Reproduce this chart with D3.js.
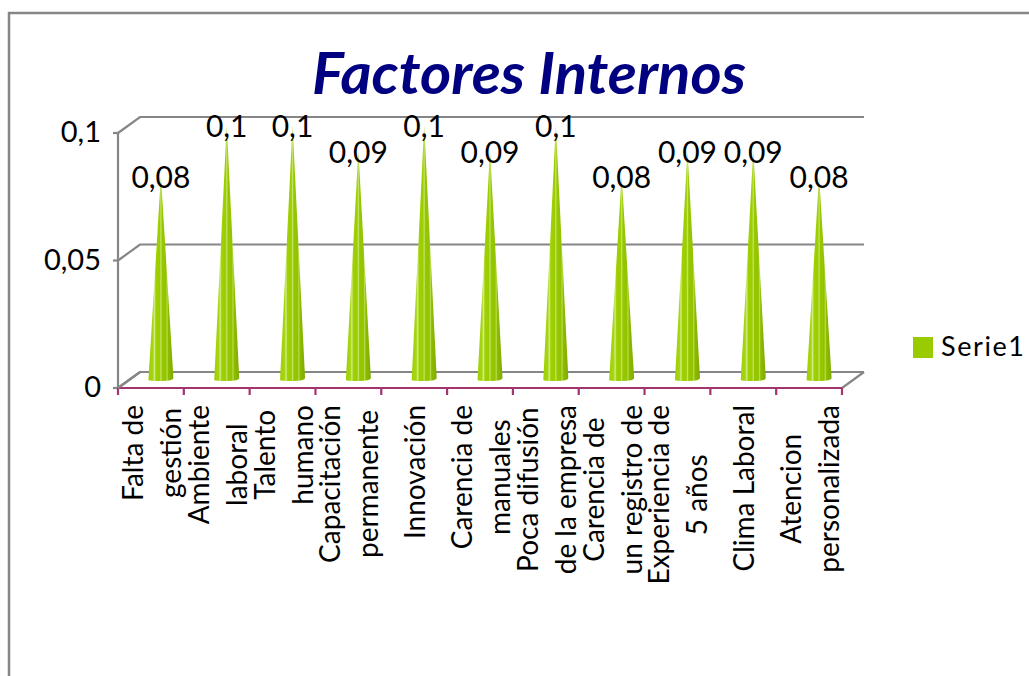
<!DOCTYPE html>
<html>
<head>
<meta charset="utf-8">
<script src="https://cdn.jsdelivr.net/npm/d3@7"></script>
<style>
  html, body { margin: 0; padding: 0; background: #fff; }
  svg { display: block; }
  text { font-family: Lato, "Noto Sans", sans-serif; fill: #000; }
</style>
</head>
<body>
<svg id="chart" width="1029" height="676"></svg>
<script>
// Factor labels, one entry per line of the wrapped axis text
const categoryLines = [
  ["Falta de", "gestión"],
  ["Ambiente", "laboral"],
  ["Talento", "humano"],
  ["Capacitación", "permanente"],
  ["Innovación"],
  ["Carencia de", "manuales"],
  ["Poca difusión", "de la empresa"],
  ["Carencia de", "un registro de"],
  ["Experiencia de", "5 años"],
  ["Clima Laboral"],
  ["Atencion", "personalizada"]
];
const categories = categoryLines.map(l => l.join(" "));
const serie1 = [0.08, 0.1, 0.1, 0.09, 0.1, 0.09, 0.1, 0.08, 0.09, 0.09, 0.08];
const yTicks = [0, 0.05, 0.1];
const seriesName = "Serie1";
const title = "Factores Internos";

const svg = d3.select("#chart");
const fmt = v => String(v).replace(".", ",");

// plot geometry (front plane) and 3D depth offset
const x0 = 118, x1 = 842, yBase = 388, yTop = 133;
const depth = { dx: 22, dy: -16 };

const x = d3.scaleBand().domain(categories).range([x0, x1]).padding(0);
const y = d3.scaleLinear().domain([0, 0.1]).range([yBase, yTop]);

// chart frame
svg.append("rect")
  .attr("x", 9).attr("y", 13).attr("width", 1040).attr("height", 700)
  .attr("fill", "none").attr("stroke", "#868686").attr("stroke-width", 2.5);

// title
svg.append("text")
  .attr("x", 529).attr("y", 94)
  .attr("text-anchor", "middle")
  .attr("font-size", 58).attr("font-weight", 700).attr("font-style", "italic")
  .attr("textLength", 434).attr("lengthAdjust", "spacingAndGlyphs")
  .style("fill", "#000080")
  .text(title);

const grid = svg.append("g").attr("stroke", "#868686").attr("stroke-width", 2.2).attr("fill", "none");

// back-wall gridlines with their diagonal into the front axis
yTicks.forEach(t => {
  const yy = y(t);
  grid.append("path").attr("d", d3.line()([
    [x0, yy], [x0 + depth.dx, yy + depth.dy], [x1 + depth.dx, yy + depth.dy]
  ]));
});
// right edge of floor
grid.append("path").attr("d", d3.line()([[x1, yBase], [x1 + depth.dx, yBase + depth.dy]]));

// value axis
grid.append("line").attr("x1", x0).attr("x2", x0).attr("y1", yTop).attr("y2", yBase);
yTicks.forEach(t => {
  grid.append("line").attr("x1", x0 - 5).attr("x2", x0).attr("y1", y(t)).attr("y2", y(t));
});

svg.append("g").selectAll("text").data(yTicks).join("text")
  .attr("x", 101).attr("y", d => y(d) + 2)
  .attr("text-anchor", "end").attr("dominant-baseline", "middle")
  .attr("font-size", 29)
  .text(d => fmt(d));

// cone shading
const defs = svg.append("defs");
const grad = defs.append("linearGradient").attr("id", "coneFill")
  .attr("x1", "0%").attr("x2", "100%").attr("y1", "0%").attr("y2", "0%");
[
  [0, "#9fd000"], [0.18, "#a6d514"], [0.24, "#d2ec8a"], [0.3, "#9fd000"],
  [0.45, "#9ccd00"], [0.5, "#c5e46a"], [0.55, "#96c800"], [0.7, "#92c300"],
  [0.75, "#b9dc48"], [0.8, "#8dbc00"], [1, "#80aa00"]
].forEach(([o, c]) => grad.append("stop").attr("offset", o).attr("stop-color", c));

const coneHalf = 12.5;
const mid = { dx: depth.dx / 2, dy: depth.dy / 2 };
svg.append("g").selectAll("path").data(serie1).join("path")
  .attr("fill", "url(#coneFill)")
  .attr("d", (d, i) => {
    const cx = x(categories[i]) + x.bandwidth() / 2 + mid.dx - 1;
    const yb = y(0) + mid.dy;
    const ya = y(d) + mid.dy;
    return `M${cx},${ya} L${cx + coneHalf},${yb - 2} Q${cx + coneHalf},${yb + 1} ${cx},${yb + 1}` +
           ` Q${cx - coneHalf},${yb + 1} ${cx - coneHalf},${yb} Z`;
  });

// data labels
svg.append("g").selectAll("text").data(serie1).join("text")
  .attr("x", (d, i) => x(categories[i]) + x.bandwidth() / 2 + mid.dx - 1)
  .attr("y", d => y(d) + mid.dy + 12)
  .attr("text-anchor", "middle")
  .attr("font-size", 30)
  .text(d => fmt(d));

// category axis (front floor edge)
const axisG = svg.append("g").attr("stroke", "#a3346f").attr("stroke-width", 2.2);
axisG.append("line").attr("x1", x0).attr("x2", x1).attr("y1", yBase).attr("y2", yBase);
const bounds = categories.map(c => x(c)).concat([x1]);
axisG.selectAll("line.tick").data(bounds).join("line").attr("class", "tick")
  .attr("x1", d => d).attr("x2", d => d).attr("y1", yBase).attr("y2", yBase + 7);
// left floor edge
svg.append("line").attr("x1", x0).attr("y1", yBase).attr("x2", x0 + depth.dx).attr("y2", yBase + depth.dy)
  .attr("stroke", "#868686").attr("stroke-width", 2.2);

// rotated, wrapped category labels
const lineGap = 38, labelTop = 405;
categoryLines.forEach((lines, i) => {
  const cx = x(categories[i]) + x.bandwidth() / 2;
  const g = svg.append("g");
  const ts = lines.map((ln, j) => g.append("text")
    .attr("font-size", 28)
    .attr("text-anchor", "middle")
    .attr("dominant-baseline", "central")
    .text(ln));
  const maxLen = d3.max(ts, t => t.node().getComputedTextLength());
  const cy = labelTop + maxLen / 2;
  ts.forEach((t, j) => {
    const lx = cx + (j - (lines.length - 1) / 2) * lineGap;
    t.attr("transform", `translate(${lx},${cy}) rotate(-90)`);
  });
});

// legend
const leg = svg.append("g");
leg.append("rect").attr("x", 913).attr("y", 337).attr("width", 20).attr("height", 21).attr("fill", "#99cc00");
leg.append("text").attr("x", 941).attr("y", 356).attr("font-size", 27)
  .attr("textLength", 83).attr("lengthAdjust", "spacing")
  .text(seriesName);
</script>
</body>
</html>
